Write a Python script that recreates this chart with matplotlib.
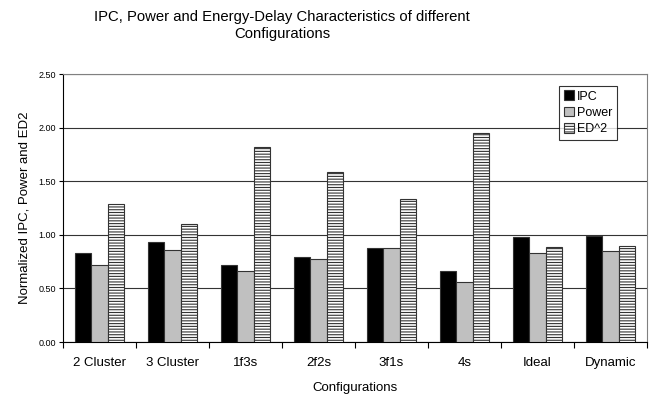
import numpy as np
import matplotlib
matplotlib.use('Agg')
import matplotlib.pyplot as plt

plt.rcParams['font.family'] = ['Liberation Sans', 'DejaVu Sans']
plt.rcParams['hatch.color'] = '#555555'
plt.rcParams['hatch.linewidth'] = 0.8

configs = ['2 Cluster', '3 Cluster', '1f3s', '2f2s', '3f1s', '4s', 'Ideal', 'Dynamic']
ipc = [0.83, 0.93, 0.72, 0.79, 0.88, 0.66, 0.98, 0.99]
power = [0.72, 0.86, 0.66, 0.77, 0.88, 0.56, 0.83, 0.85]
ed2 = [1.29, 1.10, 1.82, 1.59, 1.33, 1.95, 0.89, 0.90]

fig = plt.figure(figsize=(6.56, 3.99), dpi=100)
ax = fig.add_axes([63/656, 1 - 342/399, 584/656, 268/399])

x = np.arange(len(configs)) + 0.5
w = 0.228
ax.bar(x - w, ipc, w, color='black', edgecolor='#333333', linewidth=0.8, label='IPC', zorder=3)
ax.bar(x, power, w, color='#c0c0c0', edgecolor='#333333', linewidth=0.8, label='Power', zorder=3)
ax.bar(x + w, ed2, w, color='white', edgecolor='#333333', linewidth=0.8, hatch='------',
       label='ED^2', zorder=3)

ax.set_xlim(0, len(configs))
ax.set_ylim(0, 2.5)
ax.set_yticks(np.arange(0, 2.51, 0.5))
ax.set_yticklabels(['%.2f' % v for v in np.arange(0, 2.51, 0.5)], fontsize=6.5)
ax.yaxis.grid(True, color='#333333', linewidth=0.8, zorder=0)

ax.set_xticks(np.arange(len(configs) + 1))
ax.set_xticklabels([])
ax.set_xticks(x, minor=True)
ax.set_xticklabels(configs, minor=True, fontsize=9.5)
ax.tick_params(axis='x', which='minor', length=0, pad=11)
ax.tick_params(axis='x', which='major', length=4, direction='out')
ax.tick_params(axis='y', length=3, direction='out', pad=2)

for s in ['top', 'right']:
    ax.spines[s].set_color('#808080')
ax.spines['left'].set_color('black')
ax.spines['bottom'].set_color('black')

ax.set_xlabel('Configurations', fontsize=9.5, labelpad=9)
ax.set_ylabel('Normalized IPC, Power and ED2', fontsize=9.5, labelpad=6)

leg = ax.legend(loc='upper right', bbox_to_anchor=((617 - 63)/584, 1 - (86 - 74)/268),
                fontsize=9, frameon=True, fancybox=False, edgecolor='black',
                handlelength=0.8, handleheight=0.8, handletextpad=0.3,
                borderpad=0.35, labelspacing=0.35, borderaxespad=0)
leg.get_frame().set_linewidth(0.8)
leg.set_zorder(5)

fig.text(282/656, 1 - 25.5/399, 'IPC, Power and Energy-Delay Characteristics of different\nConfigurations',
         ha='center', va='center', fontsize=10.7, linespacing=1.2)

fig.savefig('out.png', dpi=100)
